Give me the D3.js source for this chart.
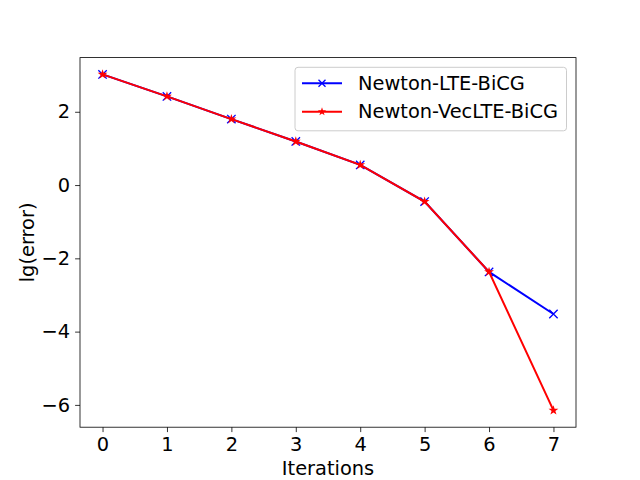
<!doctype html>
<html>
<head>
<meta charset="utf-8">
<script src="https://d3js.org/d3.v7.min.js"></script>
<style>
  body { margin: 0; background: #fff; }
  text { font-family: "DejaVu Sans", sans-serif; }
</style>
</head>
<body>
<script>
// data
var iterations = [0, 1, 2, 3, 4, 5, 6, 7];
var lteBicg    = [3.02, 2.42, 1.80, 1.19, 0.55, -0.45, -2.37, -3.52];
var vecLteBicg = [3.02, 2.42, 1.80, 1.19, 0.55, -0.45, -2.37, -6.15];
var seriesNames = ['Newton-LTE-BiCG', 'Newton-VecLTE-BiCG'];
var xTicks = [0, 1, 2, 3, 4, 5, 6, 7];
var yTicks = [-6, -4, -2, 0, 2];

var width = 640, height = 480;
var axLeft = 80, axRight = 576, axTop = 57.6, axBottom = 427.2;
var fontSize = 19.4;

var svg = d3.select('body').append('svg')
    .attr('width', width)
    .attr('height', height);

// scales with matplotlib-like 5% margins
var yMin = d3.min(vecLteBicg.concat(lteBicg)), yMax = d3.max(vecLteBicg.concat(lteBicg));
var yPad = 0.05 * (yMax - yMin);
var xScale = d3.scaleLinear().domain([-0.35, 7.35]).range([axLeft, axRight]);
var yScale = d3.scaleLinear().domain([yMin - yPad, yMax + yPad]).range([axBottom, axTop]);

// axes
var xAxis = d3.axisBottom(xScale).tickValues(xTicks).tickSize(4.9).tickPadding(4.9).tickFormat(d3.format('d'));
var yAxis = d3.axisLeft(yScale).tickValues(yTicks).tickSize(4.9).tickPadding(4.9)
    .tickFormat(function(d) { return d < 0 ? '\u2212' + Math.abs(d) : d; });

var gx = svg.append('g').attr('transform', 'translate(0,' + axBottom + ')').call(xAxis);
var gy = svg.append('g').attr('transform', 'translate(' + axLeft + ',0)').call(yAxis);
[gx, gy].forEach(function(g) {
  g.select('.domain').remove();
  g.selectAll('.tick line').attr('stroke', '#000').attr('stroke-width', 0.8);
  g.selectAll('.tick text').attr('fill', '#000').style('font-size', fontSize + 'px')
    .style('font-family', '"DejaVu Sans", sans-serif');
});

// frame
svg.append('rect')
    .attr('x', axLeft).attr('y', axTop)
    .attr('width', axRight - axLeft).attr('height', axBottom - axTop)
    .attr('fill', 'none').attr('stroke', '#000').attr('stroke-width', 0.8);

// axis labels
svg.append('text')
    .attr('x', (axLeft + axRight) / 2).attr('y', 475)
    .attr('text-anchor', 'middle')
    .style('font-size', fontSize + 'px')
    .text('Iterations');

svg.append('text')
    .attr('transform', 'translate(34,' + (axTop + axBottom) / 2 + ') rotate(-90)')
    .attr('text-anchor', 'middle')
    .style('font-size', fontSize + 'px')
    .text('lg(error)');

var line = d3.line()
    .x(function(d) { return xScale(d[0]); })
    .y(function(d) { return yScale(d[1]); });

var starPath = d3.symbol().type(d3.symbolStar).size(30)();

function xMarker(g, s) {
  g.append('path')
    .attr('d', 'M' + (-s) + ',' + (-s) + 'L' + s + ',' + s + 'M' + (-s) + ',' + s + 'L' + s + ',' + (-s))
    .attr('stroke', 'blue').attr('stroke-width', 1.3).attr('fill', 'none');
}

var plot = svg.append('g');

// blue series
var blueData = d3.zip(iterations, lteBicg);
plot.append('path').datum(blueData).attr('d', line)
    .attr('fill', 'none').attr('stroke', 'blue').attr('stroke-width', 2);
blueData.forEach(function(d) {
  var g = plot.append('g').attr('transform', 'translate(' + xScale(d[0]) + ',' + yScale(d[1]) + ')');
  xMarker(g, 4.2);
});

// red series
var redData = d3.zip(iterations, vecLteBicg);
plot.append('path').datum(redData).attr('d', line)
    .attr('fill', 'none').attr('stroke', 'red').attr('stroke-width', 2);
plot.selectAll('.star').data(redData).enter().append('path')
    .attr('class', 'star')
    .attr('d', starPath)
    .attr('transform', function(d) { return 'translate(' + xScale(d[0]) + ',' + yScale(d[1]) + ')'; })
    .attr('fill', 'red');

// legend
var legend = svg.append('g');
legend.append('rect')
    .attr('x', 295).attr('y', 67.3).attr('width', 271.5).attr('height', 63.5)
    .attr('rx', 3).attr('fill', '#fff').attr('fill-opacity', 0.8)
    .attr('stroke', '#ccc').attr('stroke-width', 1);

var rows = [83.3, 111.7];
seriesNames.forEach(function(name, i) {
  var y = rows[i];
  var col = i === 0 ? 'blue' : 'red';
  legend.append('line').attr('x1', 302).attr('x2', 342).attr('y1', y).attr('y2', y)
      .attr('stroke', col).attr('stroke-width', 2);
  var g = legend.append('g').attr('transform', 'translate(322,' + y + ')');
  if (i === 0) xMarker(g, 3.5);
  else g.append('path').attr('d', d3.symbol().type(d3.symbolStar).size(22)()).attr('fill', 'red');
  legend.append('text').attr('x', 358).attr('y', y).attr('dy', '0.35em')
      .style('font-size', fontSize + 'px').text(name);
});
</script>
</body>
</html>
